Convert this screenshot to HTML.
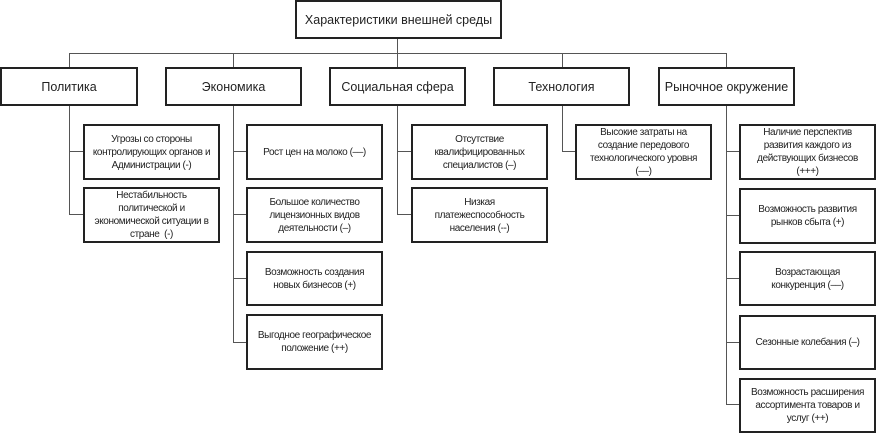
<!DOCTYPE html>
<html><head><meta charset="utf-8"><style>
body{margin:0;background:#fff;width:885px;height:438px;position:relative;overflow:hidden;font-family:"Liberation Sans",Arial,sans-serif;color:#222}
.b{position:absolute;box-sizing:border-box;border:2px solid #222;background:#fff;display:flex;align-items:center;justify-content:center;text-align:center}
.c{font-size:12.5px}
.s{font-size:10px;line-height:13px;padding:0 1px;letter-spacing:-0.4px}
.l{position:absolute;background:#555}
</style></head><body>
<div class="l" style="left:397px;top:38px;width:1px;height:16px"></div>
<div class="l" style="left:69px;top:53px;width:658px;height:1px"></div>
<div class="l" style="left:69px;top:53px;width:1px;height:14px"></div>
<div class="l" style="left:233px;top:53px;width:1px;height:14px"></div>
<div class="l" style="left:397px;top:53px;width:1px;height:14px"></div>
<div class="l" style="left:562px;top:53px;width:1px;height:14px"></div>
<div class="l" style="left:726px;top:53px;width:1px;height:14px"></div>

<div class="l" style="left:69px;top:105px;width:1px;height:110px"></div>
<div class="l" style="left:69px;top:151px;width:14px;height:1px"></div>
<div class="l" style="left:69px;top:214px;width:14px;height:1px"></div>

<div class="l" style="left:233px;top:105px;width:1px;height:238px"></div>
<div class="l" style="left:233px;top:151px;width:13px;height:1px"></div>
<div class="l" style="left:233px;top:214px;width:13px;height:1px"></div>
<div class="l" style="left:233px;top:278px;width:13px;height:1px"></div>
<div class="l" style="left:233px;top:342px;width:13px;height:1px"></div>

<div class="l" style="left:397px;top:105px;width:1px;height:110px"></div>
<div class="l" style="left:397px;top:151px;width:14px;height:1px"></div>
<div class="l" style="left:397px;top:214px;width:14px;height:1px"></div>

<div class="l" style="left:562px;top:105px;width:1px;height:47px"></div>
<div class="l" style="left:562px;top:151px;width:13px;height:1px"></div>

<div class="l" style="left:726px;top:105px;width:1px;height:300px"></div>
<div class="l" style="left:726px;top:151px;width:13px;height:1px"></div>
<div class="l" style="left:726px;top:215px;width:13px;height:1px"></div>
<div class="l" style="left:726px;top:278px;width:13px;height:1px"></div>
<div class="l" style="left:726px;top:342px;width:13px;height:1px"></div>
<div class="l" style="left:726px;top:404px;width:13px;height:1px"></div>

<div class="b c" style="left:295px;top:0;width:207px;height:39px">Характеристики внешней среды</div>
<div class="b c" style="left:0;top:67px;width:138px;height:39px">Политика</div>
<div class="b c" style="left:165px;top:67px;width:137px;height:39px">Экономика</div>
<div class="b c" style="left:329px;top:67px;width:137px;height:39px">Социальная сфера</div>
<div class="b c" style="left:493px;top:67px;width:137px;height:39px">Технология</div>
<div class="b c" style="left:658px;top:67px;width:137px;height:39px">Рыночное окружение</div>

<div class="b s" style="left:83px;top:124px;width:137px;height:56px">Угрозы со стороны<br>контролирующих органов и<br>Администрации (-)</div>
<div class="b s" style="left:83px;top:187px;width:137px;height:56px">Нестабильность<br>политической и<br>экономической ситуации в<br>стране&nbsp; (-)</div>

<div class="b s" style="left:246px;top:124px;width:137px;height:56px">Рост цен на молоко (––)</div>
<div class="b s" style="left:246px;top:187px;width:137px;height:56px">Большое количество<br>лицензионных видов<br>деятельности (–)</div>
<div class="b s" style="left:246px;top:251px;width:137px;height:55px">Возможность создания<br>новых бизнесов (+)</div>
<div class="b s" style="left:246px;top:314px;width:137px;height:56px">Выгодное географическое<br>положение (++)</div>

<div class="b s" style="left:411px;top:124px;width:137px;height:56px">Отсутствие<br>квалифицированных<br>специалистов (–)</div>
<div class="b s" style="left:411px;top:187px;width:137px;height:56px">Низкая<br>платежеспособность<br>населения (--)</div>

<div class="b s" style="left:575px;top:124px;width:137px;height:56px">Высокие затраты на<br>создание передового<br>технологического уровня<br>(––)</div>

<div class="b s" style="left:739px;top:124px;width:137px;height:56px">Наличие перспектив<br>развития каждого из<br>действующих бизнесов<br>(+++)</div>
<div class="b s" style="left:739px;top:188px;width:137px;height:56px">Возможность развития<br>рынков сбыта (+)</div>
<div class="b s" style="left:739px;top:251px;width:137px;height:55px">Возрастающая<br>конкуренция (––)</div>
<div class="b s" style="left:739px;top:315px;width:137px;height:55px">Сезонные колебания (–)</div>
<div class="b s" style="left:739px;top:378px;width:137px;height:55px">Возможность расширения<br>ассортимента товаров и<br>услуг (++)</div>
</body></html>
